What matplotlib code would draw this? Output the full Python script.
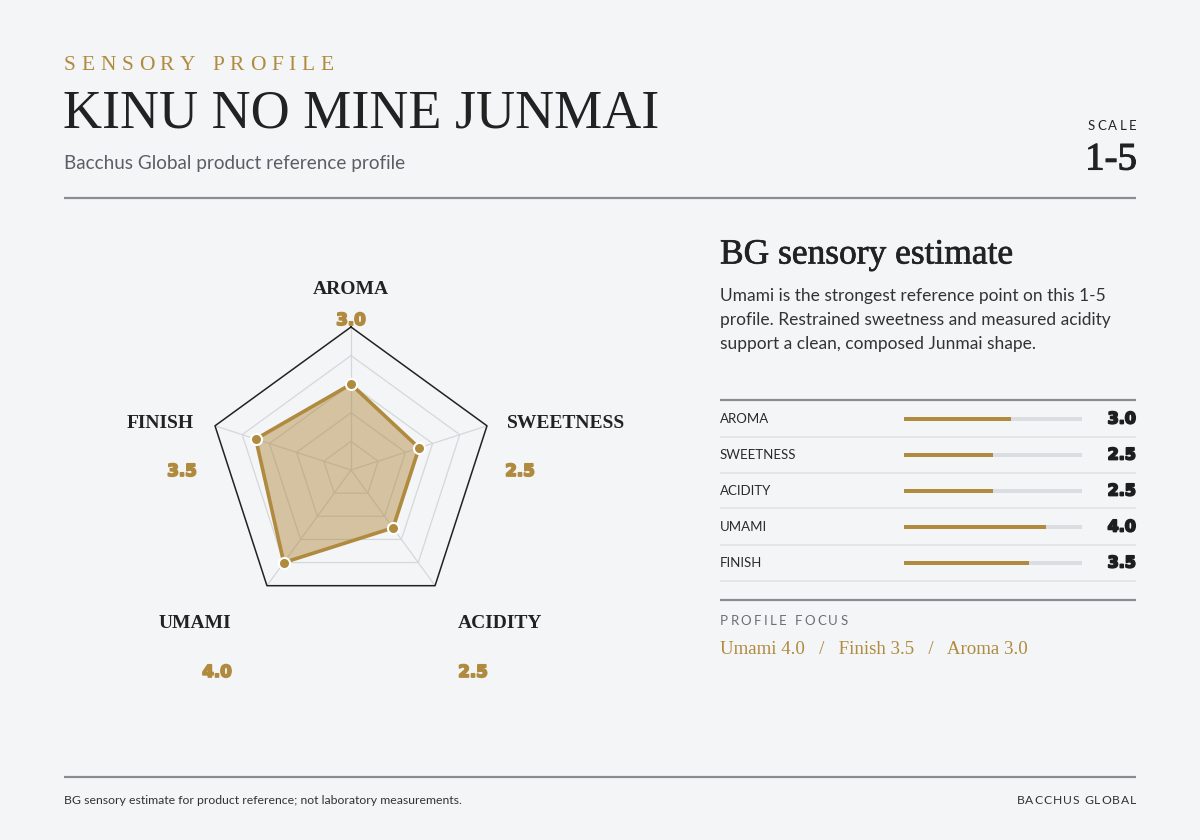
import numpy as np
import matplotlib
matplotlib.use('Agg')
import matplotlib.pyplot as plt
import matplotlib.patheffects as pe

# ---------------- data ----------------
categories = ['AROMA', 'SWEETNESS', 'ACIDITY', 'UMAMI', 'FINISH']
values = [3.0, 2.5, 2.5, 4.0, 3.5]
scale_max = 5
rings = [1, 2, 3, 4, 5]
focus_items = ['Umami 4.0', 'Finish 3.5', 'Aroma 3.0']
paragraph = ['Umami is the strongest reference point on this 1-5',
             'profile. Restrained sweetness and measured acidity',
             'support a clean, composed Junmai shape.']

# ---------------- style ----------------
BG = '#f4f5f7'
GOLD = '#b08a3e'
DARK = '#222222'
GRAY = '#5a5f66'
RULE = '#8a8c90'
LIGHT = '#dcdde0'
SERIF = ['Liberation Serif', 'DejaVu Serif']
SANS = ['Lato', 'Open Sans', 'DejaVu Sans']
HEAVY = ['DejaVu Sans']

W, H = 1200, 840
fig = plt.figure(figsize=(12, 8.4), dpi=100, facecolor=BG)


def fx(x):
    return x / W


def fy(y):
    return 1 - y / H


def hline(x0, x1, y, color, lw):
    fig.add_artist(plt.Line2D([fx(x0), fx(x1)], [fy(y), fy(y)], color=color, lw=lw,
                              transform=fig.transFigure, solid_capstyle='butt'))


renderer = fig.canvas.get_renderer()


def spaced(x, y, s, track, ha='left', size=10, **kw):
    """Draw letter-spaced text; x,y in pixels."""
    px = size * 100 / 72
    widths = []
    for ch in s:
        if ch == ' ':
            widths.append(0.28 * px)
        else:
            t = fig.text(0, 0, ch, fontsize=size, **kw)
            widths.append(t.get_window_extent(renderer).width)
            t.remove()
    total = sum(widths) + track * (len(s) - 1)
    start = x if ha == 'left' else x - total
    cur = start
    for ch, w in zip(s, widths):
        if ch != ' ':
            fig.text(fx(cur), fy(y), ch, fontsize=size, ha='left', va='center', **kw)
        cur += w + track


def heavy(color):
    return [pe.withStroke(linewidth=1.3, foreground=color)]


# ---------------- header ----------------
spaced(64, 65, 'SENSORY PROFILE', 5.6, size=15.5, color=GOLD, family=SERIF)
fig.text(fx(63), fy(114), 'KINU NO MINE JUNMAI', fontsize=39, color=DARK,
         family=SERIF, ha='left', va='center')
fig.text(fx(64), fy(163), 'Bacchus Global product reference profile', fontsize=13.6,
         color=GRAY, family=SANS, ha='left', va='center')
spaced(1136, 126, 'SCALE', 2.2, ha='right', size=9.5, color=DARK, family=SANS)
fig.text(fx(1137), fy(160), '1-5', fontsize=28, color=DARK, family=SERIF,
         ha='right', va='center', path_effects=[pe.withStroke(linewidth=0.8, foreground=DARK)])
hline(64, 1136, 198, RULE, 1.6)

# ---------------- radar ----------------
cx, cy, R = 351, 470, 143
ax = fig.add_axes([fx(cx - R), fy(cy + R), 2 * R / W, 2 * R / H], projection='polar')
ax.set_facecolor('none')
ax.set_theta_offset(np.pi / 2)
ax.set_theta_direction(-1)
ax.set_ylim(0, scale_max)
ax.axis('off')
n = len(categories)
angles = np.linspace(0, 2 * np.pi, n, endpoint=False)
ang_c = np.append(angles, angles[0])
for r in rings:
    if r == scale_max:
        ax.plot(ang_c, [r] * (n + 1), color=DARK, lw=1.1, zorder=3, clip_on=False)
    else:
        ax.plot(ang_c, [r] * (n + 1), color='#d5d7da', lw=0.9, zorder=1, clip_on=False)
for a in angles:
    ax.plot([a, a], [0, scale_max], color='#d5d7da', lw=0.9, zorder=1)
vals_c = values + values[:1]
ax.fill(ang_c, vals_c, color=GOLD, alpha=0.47, lw=0, zorder=2)
ax.plot(ang_c, vals_c, color=GOLD, lw=2.6, zorder=4, solid_joinstyle='miter')
ax.plot(angles, values, 'o', color=GOLD, ms=8, mec='white', mew=1.5, zorder=5,
        clip_on=False)

label_px = [(351, 289), (566, 423), (500, 624), (195, 624), (160, 424)]
value_px = [(351, 320), (520, 471), (473, 672), (217, 672), (182, 471)]
for cat, v, (lx, ly), (vx, vy) in zip(categories, values, label_px, value_px):
    fig.text(fx(lx), fy(ly), cat, fontsize=14, fontweight='bold', color=DARK,
             family=SERIF, ha='center', va='center')
    fig.text(fx(vx), fy(vy), f'{v:.1f}', fontsize=12, fontweight='bold', color=GOLD,
             family=HEAVY, ha='center', va='center', zorder=10, path_effects=heavy(GOLD))

# ---------------- right panel ----------------
fig.text(fx(720), fy(255), 'BG sensory estimate', fontsize=25.5, color=DARK,
         family=SERIF, ha='left', va='center',
         path_effects=[pe.withStroke(linewidth=0.5, foreground=DARK)])
for i, line in enumerate(paragraph):
    fig.text(fx(720), fy(296 + 24 * i), line, fontsize=12.5, color='#333333',
             family=SANS, ha='left', va='center')

hline(720, 1136, 400, RULE, 1.6)
row0, step = 419, 36
bax = fig.add_axes([fx(904), fy(row0 - step / 2 + step * n), 178 / W, step * n / H])
bax.set_facecolor('none')
bax.set_xlim(0, scale_max)
bax.set_ylim(n - 0.5, -0.5)
bax.axis('off')
ypos = np.arange(n)
bax.barh(ypos, [scale_max] * n, height=0.13, color=LIGHT, lw=0)
bax.barh(ypos, values, height=0.13, color=GOLD, lw=0)
for i, (cat, v) in enumerate(zip(categories, values)):
    y = row0 + step * i
    fig.text(fx(720), fy(y), cat, fontsize=9.5, color='#2a2a2a', family=SANS,
             ha='left', va='center')
    fig.text(fx(1136), fy(y), f'{v:.1f}', fontsize=11.5, fontweight='bold',
             color='#1e1e1e', family=HEAVY, ha='right', va='center',
             path_effects=heavy('#1e1e1e'))
    hline(720, 1136, y + 17.5, '#e3e4e6', 1.3)

hline(720, 1136, 600, RULE, 1.6)
spaced(720, 621, 'PROFILE FOCUS', 2.3, size=9.5, color='#6a6e74', family=SANS)
fig.text(fx(720), fy(649), '   /   '.join(focus_items), fontsize=13.6, color=GOLD,
         family=SERIF, ha='left', va='center')

# ---------------- footer ----------------
hline(64, 1136, 777, RULE, 1.6)
fig.text(fx(64), fy(801), 'BG sensory estimate for product reference; not laboratory measurements.',
         fontsize=8.8, color='#333333', family=SANS, ha='left', va='center')
spaced(1136, 801, 'BACCHUS GLOBAL', 0.9, ha='right', size=8.7, color='#333333', family=SANS)

fig.savefig('out.png', dpi=100, facecolor=BG)
